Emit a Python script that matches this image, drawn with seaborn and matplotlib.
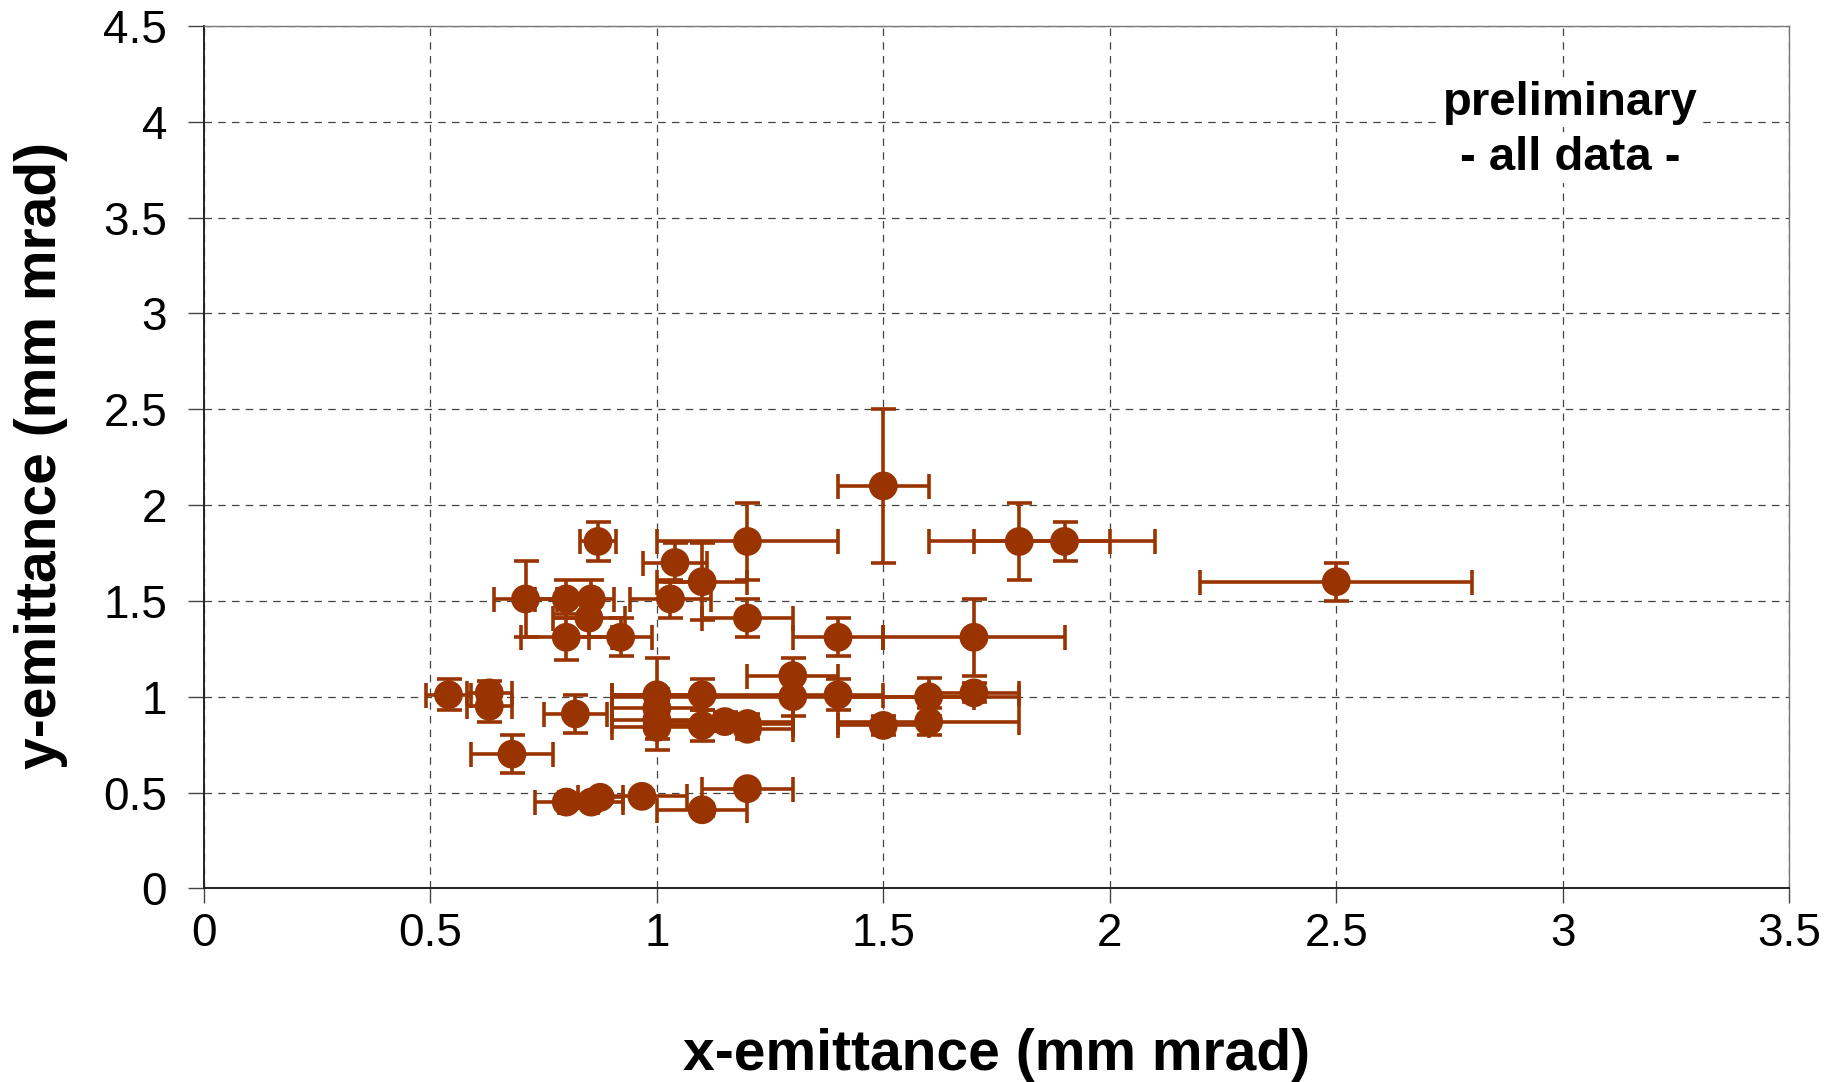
import matplotlib
matplotlib.use('Agg')
import matplotlib.pyplot as plt
import numpy as np
import pandas as pd
import seaborn as sns

# emittance measurements (mm mrad)
x_emit = [0.54, 0.63, 0.63, 0.68, 0.71, 0.80, 0.80, 0.855, 0.85, 0.92,
          0.87, 0.82, 0.80, 0.855, 0.875, 0.967, 1.10, 1.20, 1.00, 1.00,
          1.00, 1.00, 1.10, 1.10, 1.15, 1.20, 1.20, 1.04, 1.10, 1.03,
          1.20, 1.20, 1.30, 1.30, 1.40, 1.40, 1.50, 1.50, 1.60, 1.60,
          1.70, 1.70, 1.80, 1.90, 2.50]
y_emit = [1.01, 1.02, 0.95, 0.70, 1.51, 1.51, 1.31, 1.51, 1.41, 1.31,
          1.81, 0.91, 0.45, 0.45, 0.475, 0.48, 0.41, 0.52, 1.01, 0.94,
          0.88, 0.84, 1.01, 0.85, 0.87, 0.86, 0.83, 1.70, 1.60, 1.51,
          1.81, 1.41, 1.11, 1.00, 1.31, 1.01, 2.10, 0.85, 1.00, 0.87,
          1.31, 1.02, 1.81, 1.81, 1.60]
x_err = [0.05, 0.05, 0.05, 0.09, 0.07, 0.07, 0.10, 0.05, 0.08, 0.07,
         0.04, 0.07, 0.07, 0.07, 0.05, 0.10, 0.10, 0.10, 0.10, 0.10,
         0.10, 0.10, 0.20, 0.10, 0.15, 0.10, 0.10, 0.07, 0.10, 0.09,
         0.20, 0.10, 0.10, 0.40, 0.10, 0.10, 0.10, 0.10, 0.20, 0.20,
         0.20, 0.10, 0.20, 0.20, 0.30]
y_err = [0.08, 0.06, 0.08, 0.10, 0.20, 0.10, 0.12, 0.10, 0.10, 0.10,
         0.10, 0.10, 0.03, 0.03, 0.03, 0.03, 0.03, 0.03, 0.19, 0.10,
         0.10, 0.12, 0.08, 0.08, 0.05, 0.05, 0.05, 0.10, 0.20, 0.10,
         0.20, 0.10, 0.09, 0.10, 0.10, 0.08, 0.40, 0.05, 0.10, 0.07,
         0.20, 0.05, 0.20, 0.10, 0.10]

x_ticks = [0, 0.5, 1, 1.5, 2, 2.5, 3, 3.5]
x_tick_labels = ['0', '0.5', '1', '1.5', '2', '2.5', '3', '3.5']
y_ticks = [0, 0.5, 1, 1.5, 2, 2.5, 3, 3.5, 4, 4.5]
y_tick_labels = ['0', '0.5', '1', '1.5', '2', '2.5', '3', '3.5', '4', '4.5']

df = pd.DataFrame({'x': x_emit, 'y': y_emit, 'xerr': x_err, 'yerr': y_err})

color = '#993300'

sns.set_style('white')
plt.rcParams['font.family'] = ['Liberation Sans', 'DejaVu Sans']
plt.rcParams['text.color'] = 'black'
plt.rcParams['axes.labelcolor'] = 'black'
plt.rcParams['xtick.color'] = 'black'
plt.rcParams['ytick.color'] = 'black'

fig = plt.figure(figsize=(18.37, 10.82), dpi=100)
ax = fig.add_axes([0.111, 0.179, 0.863, 0.797])

ax.errorbar(df['x'], df['y'], xerr=df['xerr'], yerr=df['yerr'], fmt='none',
            ecolor=color, elinewidth=2.6, capsize=9, capthick=2.6, zorder=2)
sns.scatterplot(data=df, x='x', y='y', color=color, s=430, edgecolor='none',
                zorder=3, ax=ax, legend=False)

ax.set_xlim(0, 3.5)
ax.set_ylim(0, 4.5)
ax.set_xticks(x_ticks)
ax.set_xticklabels(x_tick_labels)
ax.set_yticks(y_ticks)
ax.set_yticklabels(y_tick_labels)
ax.tick_params(axis='x', direction='out', length=11, width=1, pad=6,
               labelsize=33, bottom=True, color='#444444')
ax.tick_params(axis='y', direction='out', length=11.5, width=1, pad=15,
               labelsize=33, left=True, color='#444444')

ax.grid(True, linestyle=(0, (6, 5)), linewidth=0.9, color='#444444')
ax.set_axisbelow(True)

for side in ['left', 'bottom']:
    ax.spines[side].set_color('#222222')
    ax.spines[side].set_linewidth(1.4)
for side in ['top', 'right']:
    ax.spines[side].set_color('#777777')
    ax.spines[side].set_linewidth(1.0)

ax.set_xlabel('x-emittance (mm mrad)', fontsize=41, fontweight='bold', va='center')
ax.set_ylabel('y-emittance (mm mrad)', fontsize=41, fontweight='bold', va='center')
ax.xaxis.set_label_coords(0.5, -0.193)
ax.yaxis.set_label_coords(-0.103, 0.502)

box = dict(facecolor='white', edgecolor='none', pad=2)
ax.text(3.016, 4.10, 'preliminary', fontsize=34, fontweight='bold',
        ha='center', va='center', bbox=box, zorder=4)
ax.text(3.016, 3.81, '- all data -', fontsize=34, fontweight='bold',
        ha='center', va='center', bbox=box, zorder=4)

fig.savefig('out.png', dpi=100)
